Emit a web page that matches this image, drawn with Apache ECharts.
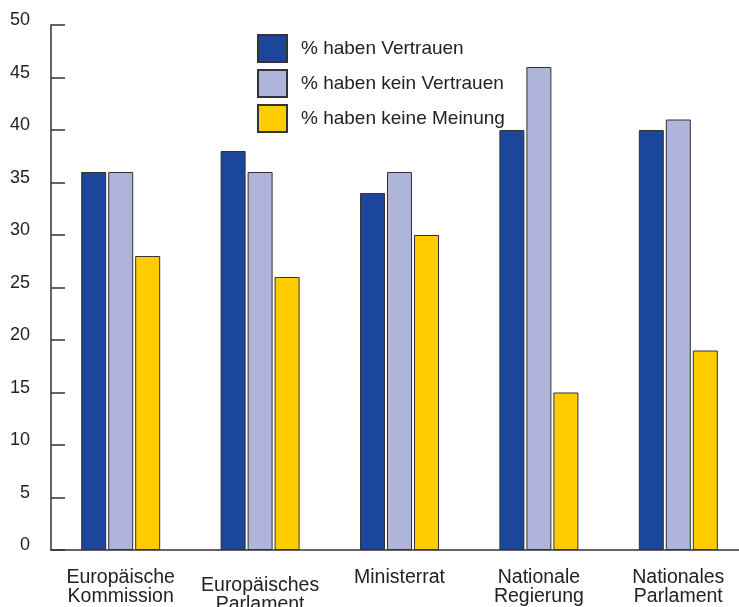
<!DOCTYPE html>
<html><head><meta charset="utf-8">
<script src="https://cdn.jsdelivr.net/npm/echarts@6/dist/echarts.min.js"></script>
<style>html,body{margin:0;padding:0;background:#fff}#c{width:739px;height:607px}</style>
</head><body><div id="c"></div>
<script>
const categories = ['Europäische\nKommission','Europäisches\nParlament','Ministerrat','Nationale\nRegierung','Nationales\nParlament'];
const seriesNames = ['% haben Vertrauen','% haben kein Vertrauen','% haben keine Meinung'];
const vertrauen = [36, 38, 34, 40, 40];
const keinVertrauen = [36, 36, 36, 46, 41];
const keineMeinung = [28, 26, 30, 15, 19];
const colors = ['#1B469A', '#AFB4DA', '#FFCC00'];
const yTicks = {min: 0, max: 50, interval: 5};

const font = 'Liberation Sans, Arial, sans-serif';
const chart = echarts.init(document.getElementById('c'));
const mk = (name, data, i) => ({
  name, type: 'bar', data, barWidth: 25, barGap: '8%',
  itemStyle: {color: colors[i], borderColor: '#333', borderWidth: 1},
  emphasis: {disabled: true}
});
chart.setOption({
  animation: false,
  textStyle: {fontFamily: font},
  grid: {left: 51, top: 25, bottom: 57, right: -9, containLabel: false, outerBoundsMode: 'none'},
  legend: {
    orient: 'vertical', left: 257, top: 34, padding: 0, itemWidth: 29, itemHeight: 27, itemGap: 6,
    icon: 'rect', selectedMode: false,
    textStyle: {fontSize: 19, color: '#222', fontFamily: font, padding: [0, 0, 0, 9]},
    data: seriesNames
  },
  xAxis: {
    type: 'category',
    data: categories.map((c, i) => i === 1 ? {value: c, textStyle: {padding: [8, 0, 0, 0]}} : c),
    axisLine: {lineStyle: {color: '#333', width: 1.5}},
    axisTick: {inside: true, length: 12, lineStyle: {color: '#333', width: 1.5}},
    axisLabel: {fontSize: 19.5, color: '#222', lineHeight: 19, margin: 18, fontFamily: font, interval: 0}
  },
  yAxis: {
    type: 'value', min: yTicks.min, max: yTicks.max, interval: yTicks.interval,
    splitLine: {show: false},
    axisLine: {show: true, lineStyle: {color: '#333', width: 1.5}},
    axisTick: {show: true, inside: true, length: 14, lineStyle: {color: '#333', width: 1.5}},
    axisLabel: {fontSize: 18, color: '#222', margin: 21, fontFamily: font, verticalAlign: 'bottom', lineHeight: 9}
  },
  series: [mk(seriesNames[0], vertrauen, 0), mk(seriesNames[1], keinVertrauen, 1), mk(seriesNames[2], keineMeinung, 2)]
});
</script></body></html>
